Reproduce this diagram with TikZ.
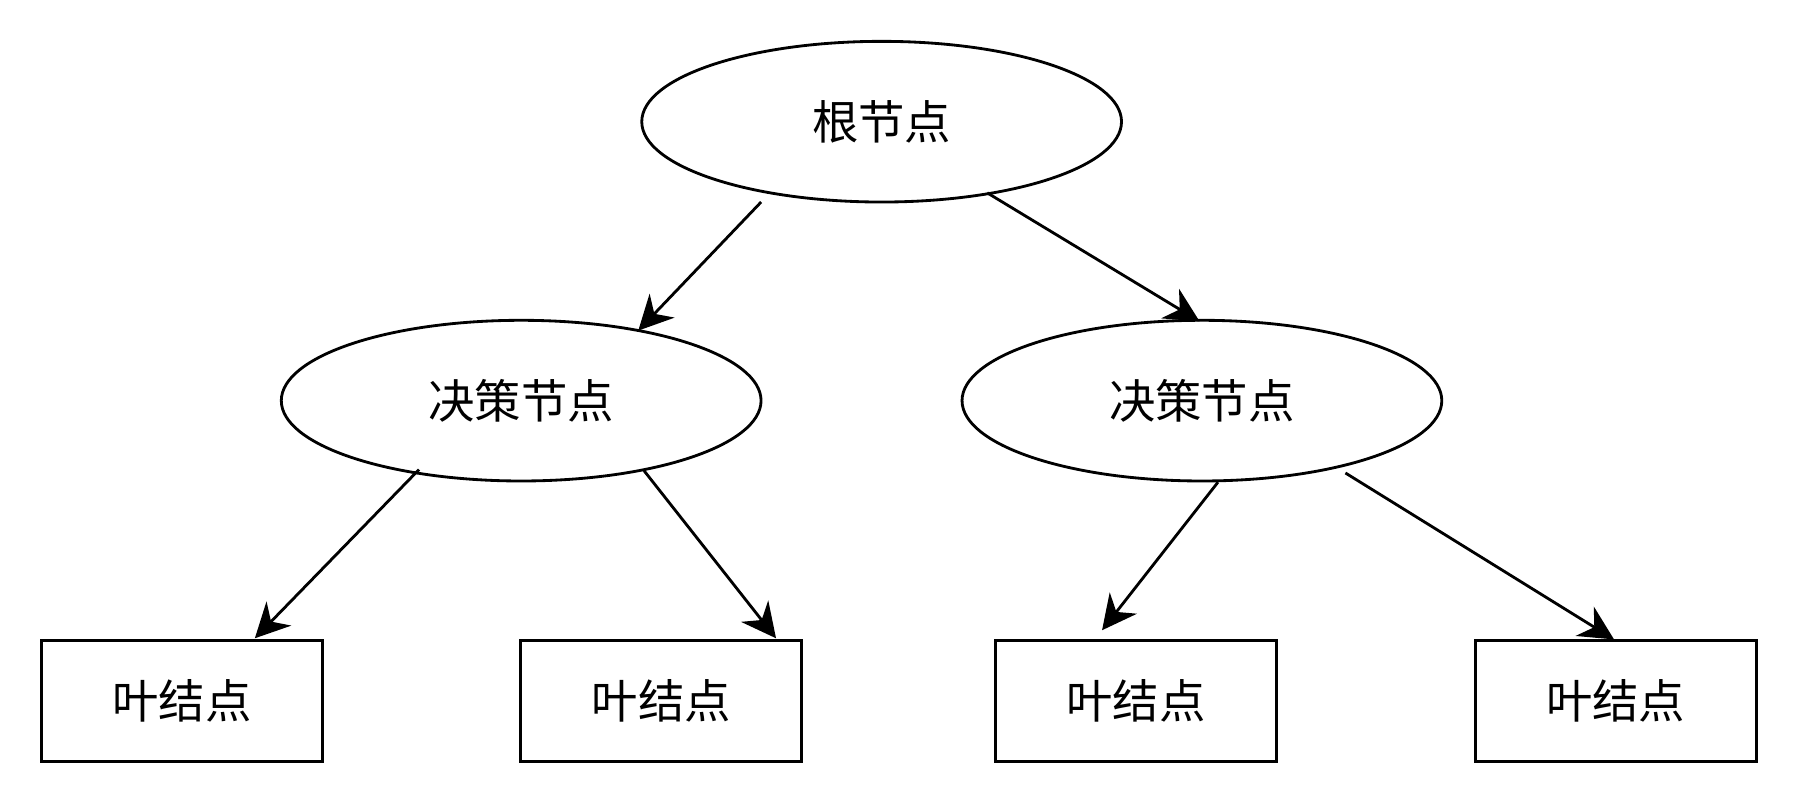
\documentclass[tikz,border=0pt]{standalone}
\usepackage{fontspec}
\newfontfamily\cjk{Noto Sans CJK SC}
\usetikzlibrary{shapes.geometric,arrows.meta}
\begin{document}
\begin{tikzpicture}[x=0.02cm,y=-0.02cm,
  ell/.style={draw,ellipse,line width=1.4pt,minimum width=8.36cm,minimum height=2.8cm,font=\cjk\fontsize{23}{26}\selectfont},
  leaf/.style={draw,rectangle,line width=1.4pt,minimum width=4.9cm,minimum height=2.1cm,font=\cjk\fontsize{23}{26}\selectfont},
  arr/.style={line width=1.4pt,-{Stealth[length=0.6cm,width=0.6cm]}}]
\useasboundingbox (0,0) rectangle (1568,700);
\node[ell] (r) at (768,106) {根节点};
\node[ell] (d1) at (454,349) {决策节点};
\node[ell] (d2) at (1047,349) {决策节点};
\node[leaf] (l1) at (158.5,610.5) {叶结点};
\node[leaf] (l2) at (576,610.5) {叶结点};
\node[leaf] (l3) at (989.5,610.5) {叶结点};
\node[leaf] (l4) at (1407.5,610.5) {叶结点};
\coordinate (a1) at (663,176); \coordinate (b1) at (556,288);
\coordinate (a2) at (860,168); \coordinate (b2) at (1045,280);
\coordinate (a3) at (365,409); \coordinate (b3) at (222,556);
\coordinate (a4) at (561,410); \coordinate (b4) at (676,556);
\coordinate (a5) at (1061,420); \coordinate (b5) at (960,549);
\coordinate (a6) at (1172,412); \coordinate (b6) at (1406,557);
\draw[arr] (a1) -- (b1);
\draw[arr] (a2) -- (b2);
\draw[arr] (a3) -- (b3);
\draw[arr] (a4) -- (b4);
\draw[arr] (a5) -- (b5);
\draw[arr] (a6) -- (b6);
\end{tikzpicture}
\end{document}
